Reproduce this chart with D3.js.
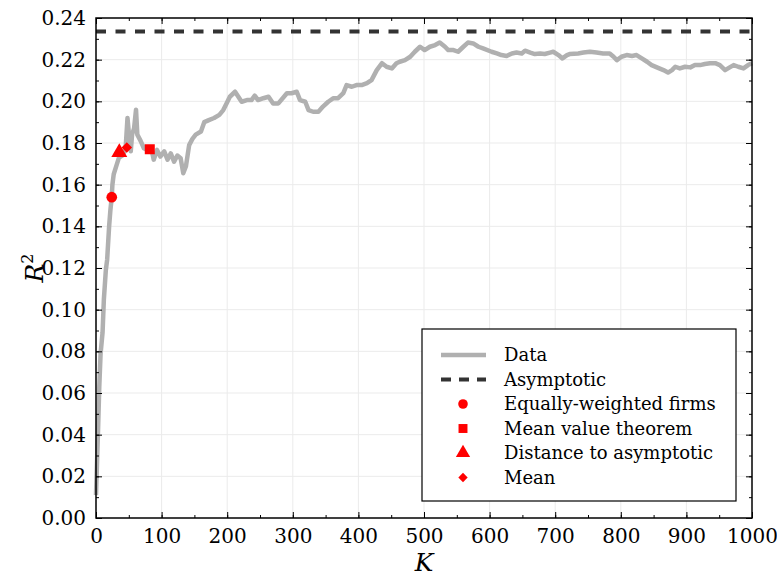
<!DOCTYPE html>
<html>
<head>
<meta charset="utf-8">
<script src="https://cdn.jsdelivr.net/npm/d3@7"></script>
<style>
  body { margin: 0; background: #fff; }
  svg text { font-family: "DejaVu Serif", serif; fill: #000; }
</style>
</head>
<body>
<div id="chart"></div>
<script>
//---------------- data ----------------------
var kValues = [0, 3, 5, 7, 10, 12, 15, 17, 20, 22, 24, 25, 27, 31, 35, 40, 45, 48, 50, 53, 55, 58, 61, 63, 68, 73, 78, 82, 86, 88,
	93, 98, 104, 109, 114, 119, 124, 129, 133, 137, 142, 147, 152, 160, 165, 172, 180, 188, 194, 199, 204, 212, 217, 222,
	230, 237, 242, 247, 255, 263, 270, 278, 291, 298, 306, 311, 319, 324, 331, 339, 346, 354, 362, 369, 377, 382, 390,
	397, 405, 413, 420, 428, 436, 443, 451, 458, 463, 471, 479, 486, 494, 501, 509, 517, 524, 532, 537, 545, 552, 560,
	567, 575, 583, 590, 603, 611, 618, 626, 634, 641, 649, 654, 662, 669, 677, 684, 692, 697, 705, 711, 718, 722, 735,
	743, 753, 763, 773, 783, 789, 794, 801, 809, 817, 824, 832, 840, 847, 855, 865, 872, 878, 883, 890, 898, 906, 913,
	921, 928, 936, 944, 951, 959, 966, 972, 979, 987, 994, 1000];
var r2Values = [0.011, 0.041, 0.063, 0.079, 0.089, 0.105, 0.119, 0.124, 0.140, 0.148, 0.154, 0.160, 0.165, 0.169, 0.173, 0.174,
	0.1767, 0.192, 0.185, 0.176, 0.184, 0.187, 0.196, 0.184, 0.181, 0.1775, 0.1767, 0.177, 0.175, 0.172,
	0.1767, 0.1735, 0.176, 0.172, 0.175, 0.171, 0.174, 0.1727, 0.1655, 0.1687, 0.179, 0.182, 0.184, 0.1855, 0.190, 0.191,
	0.192, 0.1935, 0.1958, 0.199, 0.2022, 0.2046, 0.2022, 0.1998,
	0.2006, 0.2006, 0.2027, 0.2006, 0.2015, 0.2022, 0.199, 0.199, 0.2039, 0.2039, 0.2046, 0.2006, 0.1998, 0.1958, 0.195,
	0.195, 0.1975, 0.1998, 0.2015, 0.2015, 0.2039, 0.2078, 0.207,
	0.2078, 0.2078, 0.2087, 0.2102, 0.215, 0.2183, 0.2166, 0.2158, 0.2183, 0.219, 0.2198, 0.2214, 0.2238, 0.2262, 0.2246,
	0.2262, 0.227, 0.2282, 0.2262, 0.2246, 0.2246, 0.2238, 0.2262,
	0.2282, 0.2278, 0.2262, 0.2254, 0.2238, 0.223, 0.2222, 0.2218, 0.223, 0.2234, 0.223, 0.2243, 0.2234, 0.2227, 0.223,
	0.2227, 0.2234, 0.2238, 0.2222, 0.2206, 0.2222, 0.2227, 0.223,
	0.2234, 0.2238, 0.2234, 0.223, 0.223, 0.2214, 0.2198, 0.2214, 0.2222, 0.2218, 0.2222, 0.2206, 0.219, 0.2174, 0.2163,
	0.215, 0.2138, 0.215, 0.2166, 0.2158, 0.2166, 0.2163, 0.2174,
	0.2174, 0.2179, 0.2183, 0.2183, 0.2174, 0.215, 0.2163, 0.2174, 0.2166, 0.2158, 0.2174, 0.2183];
var asymptote = 0.2335;

var markerNames = ["Equally-weighted firms", "Mean value theorem", "Distance to asymptotic", "Mean"];
var markerK = [24, 82, 35.5, 47];
var markerR2 = [0.154, 0.177, 0.1755, 0.1778];
var markerShapes = [d3.symbolCircle, d3.symbolSquare, d3.symbolTriangle, d3.symbolDiamond2 || d3.symbolDiamond];
var markerSizes = [90, 100, 110, 70];

var xTicks = [0, 100, 200, 300, 400, 500, 600, 700, 800, 900, 1000];
var yTicks = [0, 0.02, 0.04, 0.06, 0.08, 0.10, 0.12, 0.14, 0.16, 0.18, 0.20, 0.22, 0.24];

//---------------- layout ----------------------
var w = 777;
var h = 576;
var margin = {left: 96, right: 25, top: 18, bottom: 58};
var serif = "'DejaVu Serif', serif";

var svg = d3.select("#chart").append("svg").attr("width", w).attr("height", h);

var xScale = d3.scaleLinear().domain([0, 1000]).range([margin.left, w - margin.right]);
var yScale = d3.scaleLinear().domain([0, 0.24]).range([h - margin.bottom, margin.top]);

// grid
svg.append("g").selectAll("line").data(xTicks.slice(1, -1)).enter().append("line")
	.attr("x1", function(d) { return xScale(d); })
	.attr("x2", function(d) { return xScale(d); })
	.attr("y1", yScale(0)).attr("y2", yScale(0.24))
	.attr("stroke", "#ebebeb").attr("stroke-width", 1);
svg.append("g").selectAll("line").data(yTicks.slice(1, -1)).enter().append("line")
	.attr("y1", function(d) { return yScale(d); })
	.attr("y2", function(d) { return yScale(d); })
	.attr("x1", xScale(0)).attr("x2", xScale(1000))
	.attr("stroke", "#ebebeb").attr("stroke-width", 1);

// data line
var lineData = kValues.map(function(k, i) { return [k, r2Values[i]]; });
var line = d3.line()
	.x(function(d) { return xScale(d[0]); })
	.y(function(d) { return yScale(d[1]); });

svg.append("path").datum(lineData)
	.attr("d", line)
	.attr("fill", "none")
	.attr("stroke", "#b0b0b0")
	.attr("stroke-width", 4.5)
	.attr("stroke-linejoin", "round");

// asymptote
svg.append("line")
	.attr("x1", xScale(0)).attr("x2", xScale(1000))
	.attr("y1", yScale(asymptote)).attr("y2", yScale(asymptote))
	.attr("stroke", "#333").attr("stroke-width", 4)
	.attr("stroke-dasharray", "10,9.5");

// markers
svg.append("g").selectAll("path").data(markerK).enter().append("path")
	.attr("d", function(d, i) { return d3.symbol().type(markerShapes[i]).size(markerSizes[i])(); })
	.attr("transform", function(d, i) { return "translate(" + xScale(d) + "," + yScale(markerR2[i]) + ")"; })
	.attr("fill", "red");

//---------------- axes ----------------------
function minorRange(a, b, step) {
	var out = [];
	for (var v = a; v <= b + 1e-9; v += step) out.push(+v.toFixed(4));
	return out;
}
var xMinor = minorRange(0, 1000, 50);
var yMinor = minorRange(0, 0.24, 0.01);

// bottom
svg.append("g")
	.attr("transform", "translate(0," + yScale(0) + ")")
	.call(d3.axisBottom(xScale).tickValues(xMinor).tickSize(-3).tickFormat(""))
	.call(function(g) { g.select(".domain").remove(); });
svg.append("g")
	.attr("class", "xaxis")
	.attr("transform", "translate(0," + yScale(0) + ")")
	.call(d3.axisBottom(xScale).tickValues(xTicks).tickSize(-6).tickPadding(11).tickFormat(d3.format("d")))
	.call(function(g) { g.select(".domain").remove(); });
// top
svg.append("g")
	.attr("transform", "translate(0," + yScale(0.24) + ")")
	.call(d3.axisTop(xScale).tickValues(xMinor).tickSize(-3).tickFormat(""))
	.call(function(g) { g.select(".domain").remove(); });
svg.append("g")
	.attr("transform", "translate(0," + yScale(0.24) + ")")
	.call(d3.axisTop(xScale).tickValues(xTicks).tickSize(-6).tickFormat(""))
	.call(function(g) { g.select(".domain").remove(); });
// left
svg.append("g")
	.attr("transform", "translate(" + xScale(0) + ",0)")
	.call(d3.axisLeft(yScale).tickValues(yMinor).tickSize(-3).tickFormat(""))
	.call(function(g) { g.select(".domain").remove(); });
svg.append("g")
	.attr("class", "yaxis")
	.attr("transform", "translate(" + xScale(0) + ",0)")
	.call(d3.axisLeft(yScale).tickValues(yTicks).tickSize(-6).tickPadding(12).tickFormat(d3.format(".2f")))
	.call(function(g) { g.select(".domain").remove(); });
// right
svg.append("g")
	.attr("transform", "translate(" + xScale(1000) + ",0)")
	.call(d3.axisRight(yScale).tickValues(yMinor).tickSize(-3).tickFormat(""))
	.call(function(g) { g.select(".domain").remove(); });
svg.append("g")
	.attr("transform", "translate(" + xScale(1000) + ",0)")
	.call(d3.axisRight(yScale).tickValues(yTicks).tickSize(-6).tickFormat(""))
	.call(function(g) { g.select(".domain").remove(); });

svg.selectAll("g").attr("font-family", serif);
svg.selectAll(".tick line").attr("stroke", "#000").attr("stroke-width", 1);
svg.selectAll(".xaxis text, .yaxis text")
	.attr("font-family", serif)
	.attr("font-size", 20);
svg.selectAll(".yaxis text").attr("dx", "2px");

// frame
svg.append("rect")
	.attr("x", xScale(0)).attr("y", yScale(0.24))
	.attr("width", xScale(1000) - xScale(0))
	.attr("height", yScale(0) - yScale(0.24))
	.attr("fill", "none").attr("stroke", "#000").attr("stroke-width", 1.5);

// axis labels
svg.append("text")
	.attr("x", (xScale(0) + xScale(1000)) / 2)
	.attr("y", 571)
	.attr("text-anchor", "middle")
	.attr("font-family", serif)
	.attr("font-size", 25)
	.attr("font-style", "italic")
	.text("K");

var yl = svg.append("text")
	.attr("transform", "translate(43," + (yScale(0.12)) + ") rotate(-90)")
	.attr("text-anchor", "middle")
	.attr("font-family", serif)
	.attr("font-size", 25)
	.attr("font-style", "italic");
yl.append("tspan").text("R");
yl.append("tspan").attr("dy", "-10").attr("font-size", 16).attr("font-style", "normal").text("2");

//---------------- legend ----------------------
var legend = svg.append("g").attr("transform", "translate(422,329)");
legend.append("rect")
	.attr("width", 314).attr("height", 172)
	.attr("fill", "#fff").attr("stroke", "#000").attr("stroke-width", 1.2);

var legendNames = ["Data", "Asymptotic"].concat(markerNames);
var rowY = function(i) { return 26 + i * 24.5; };

legend.append("line")
	.attr("x1", 19).attr("x2", 64).attr("y1", rowY(0)).attr("y2", rowY(0))
	.attr("stroke", "#b0b0b0").attr("stroke-width", 4.5);
legend.append("line")
	.attr("x1", 19).attr("x2", 64).attr("y1", rowY(1)).attr("y2", rowY(1))
	.attr("stroke", "#333").attr("stroke-width", 4).attr("stroke-dasharray", "10,8");

legend.selectAll(".lgm").data(markerNames).enter().append("path")
	.attr("class", "lgm")
	.attr("d", function(d, i) { return d3.symbol().type(markerShapes[i]).size(markerSizes[i] * 0.8)(); })
	.attr("transform", function(d, i) { return "translate(41," + rowY(i + 2) + ")"; })
	.attr("fill", "red");

legend.selectAll(".lgt").data(legendNames).enter().append("text")
	.attr("class", "lgt")
	.attr("x", 82)
	.attr("y", function(d, i) { return rowY(i); })
	.attr("dy", "0.35em")
	.attr("font-family", serif)
	.attr("font-size", 18)
	.text(function(d) { return d; });
</script>
</body>
</html>
